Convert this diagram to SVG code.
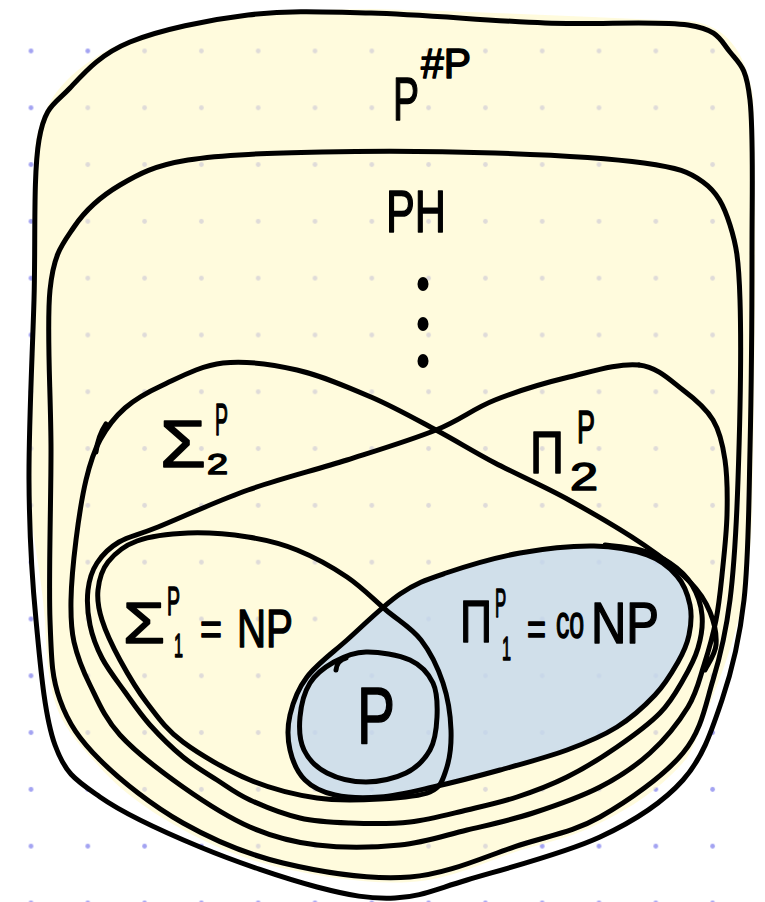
<svg xmlns="http://www.w3.org/2000/svg" width="765" height="902" viewBox="0 0 765 902">
<style>
.ln{fill:none;stroke:#000;stroke-width:5;stroke-linecap:round;stroke-linejoin:round}
.t{font-family:"Liberation Sans",Arial,sans-serif;fill:#000;stroke:#000;stroke-width:1.5;stroke-linejoin:round}
</style>
<defs>
<pattern id="dots" x="2.6" y="22.6" width="56.8" height="56.8" patternUnits="userSpaceOnUse"><circle cx="28.4" cy="28.4" r="2.4" fill="#a3a3f2"/></pattern>
</defs>
<rect width="765" height="902" fill="#fff"/>
<rect width="765" height="902" fill="url(#dots)"/>
<path id="yellow" fill="#fff9cb" fill-opacity="0.65" d="M 36,140 C 45,100 62,78 104,52 C 160,22 250,10 371,9 C 500,12 600,18 690,21 C 725,25 745,50 753,95 C 757,180 755,400 752,520 C 749,590 735,640 718,683 C 705,715 700,735 687,758 C 660,790 630,808 602,822 C 575,836 550,842 521,850 C 485,862 450,880 410,882 C 370,885 320,876 281,868 C 240,858 210,845 180,828 C 140,806 115,785 96,763 C 75,740 62,725 55,702 C 48,680 46,650 45,620 C 40,560 28,520 29,480 C 29,400 33,300 34,250 C 35,200 32,170 36,140 Z"/>
<path id="blue" fill="#c0d6ee" fill-opacity="0.75" d="M 400,594 C 416.5,582.8 426,579.8 446,573 S 495.3,557.5 520,553 S 572.8,545.7 594,546 S 633.2,550 647,555 S 669.8,567.7 677,576 S 688,595.2 690,605 S 691,625.5 689,635 S 683.7,652 678,662 S 665.2,684.2 655,695 S 631.7,717.8 617,727 S 586.5,742.8 567,750 S 522.3,763.8 500,770 S 453,782.5 433,787 S 396.3,795.7 380,797 S 347.5,797.8 335,795 S 312.5,787.5 305,780 S 292.5,760.8 290,750 S 287.2,727.2 290,715 S 297.5,689.5 307,677 S 331.5,653.8 347,640 S 383.5,605.2 400,594 Z"/>

<g id="node-psharp">
<path class="ln" d="M 39,140 C 45,104.7 54.8,104.3 70,88 C 85.2,71.7 100.3,54.2 130,42 C 159.7,29.8 207.8,19.8 248,15 C 288.2,10.2 321.5,11.7 371,13 C 420.5,14.3 492.2,21 545,23 C 597.8,25 657.2,20.2 688,25 C 718.8,29.8 719.7,39.5 730,52 C 740.3,64.5 746.3,67 750,100 C 753.7,133 752,191.7 752,250 C 752,308.3 751.3,391.7 750,450 C 748.7,508.3 748.7,558.3 744,600 C 739.3,641.7 732.2,670 722,700 C 711.8,730 703.3,757.2 683,780 C 662.7,802.8 636,820.3 600,837 C 564,853.7 501.2,869.8 467,880 C 432.8,890.2 420,896.8 395,898 C 370,899.2 349.5,895.5 317,887 C 284.5,878.5 236.2,862 200,847 C 163.8,832 124.2,814 100,797 C 75.8,780 65.7,774.5 55,745 C 44.3,715.5 40.3,664.2 36,620 C 31.7,575.8 29.3,533.3 29,480 C 28.7,426.7 32.3,356.7 34,300 C 35.7,243.3 33,175.3 39,140 Z"/>
<text class="t" font-size="62" transform="translate(393,120) scale(0.63,1)">P</text>
<text class="t" x="421" y="78" font-size="42" textLength="50" lengthAdjust="spacingAndGlyphs">#P</text>
</g>

<g id="node-ph">
<path class="ln" d="M 50,290 C 53.8,252.8 62.3,244.5 74,227 C 85.7,209.5 101,196.2 120,185 C 139,173.8 154.3,165.5 188,160 C 221.7,154.5 270.8,153.2 322,152 C 373.2,150.8 441.3,151.2 495,153 C 548.7,154.8 609.3,158.2 644,163 C 678.7,167.8 688.7,171.7 703,182 C 717.3,192.3 723.8,205.3 730,225 C 736.2,244.7 738.7,257.5 740,300 C 741.3,342.5 739.7,430 738,480 C 736.3,530 734.2,566.7 730,600 C 725.8,633.3 720.8,654.5 713,680 C 705.2,705.5 701.8,730.2 683,753 C 664.2,775.8 627.2,801.7 600,817 C 572.8,832.3 551.7,835 520,845 C 488.3,855 449.5,874 410,877 C 370.5,880 320.8,872 283,863 C 245.2,854 213.5,840.2 183,823 C 152.5,805.8 120.5,780.5 100,760 C 79.5,739.5 68.3,723.3 60,700 C 51.7,676.7 51.5,661.7 50,620 C 48.5,578.3 51,505 51,450 C 51,395 46.2,327.2 50,290 Z"/>
<text class="t" x="386" y="232" font-size="60" textLength="60" lengthAdjust="spacingAndGlyphs">PH</text>
<ellipse cx="423" cy="284" rx="5.5" ry="7"/>
<ellipse cx="423" cy="324" rx="5.5" ry="7"/>
<ellipse cx="423" cy="361" rx="5.5" ry="7"/>
</g>

<g id="node-sigma2">
<path class="ln" d="M 705,670 C 706.8,665.8 715.2,654.7 716,645 S 714.3,622.5 710,612 S 701,593.2 690,582 S 664.2,558.7 644,545 S 593.8,513.7 569,500 S 517.2,474.7 495,463 S 456.7,441 436,430 S 394.2,407 371,397 S 321.7,375.7 297,370 S 245.3,360.5 223,363 S 179.3,377.5 163,385 S 135.5,398.8 125,408 S 106.5,428 100,440 S 90,463.3 86,480 S 78.5,520 76,540 S 71.3,583 71,600 S 70.8,627.8 74,642 S 82.3,669.5 90,685 S 104.5,718 120,735 S 161.3,771.7 183,787 S 227.7,817.3 250,827 S 292,842 317,845 S 375,847.5 400,845 S 444.8,835.3 467,830 S 510.8,820.2 533,813 S 580.5,797 600,787 S 635.3,766.3 650,753 S 679,721.7 688,707 S 699.3,679.5 704,665 S 713,635 716,620 S 720.2,592.5 722,575 S 726.5,534.2 727,515 S 727.3,475.8 725,460 S 720,431.7 713,420 S 695.3,399.2 683,390 S 658,367.2 639,365"/>
<path class="ln" d="M 106,424 Q 98,436 96,452"/>
<text class="t"><tspan x="160" y="467" font-size="66" textLength="46" lengthAdjust="spacingAndGlyphs">Σ</tspan><tspan x="207" y="474" font-size="30" textLength="21" lengthAdjust="spacingAndGlyphs">2</tspan><tspan x="215" y="435" font-size="44" textLength="13" lengthAdjust="spacingAndGlyphs">P</tspan></text>
</g>

<g id="node-pi2">
<path class="ln" d="M 639,365 C 620,362.8 593,371.2 569,377 S 517.2,391.2 495,400 S 460.7,420 436,430 S 378.3,450 347,460 S 279.5,478.8 248,490 S 179.5,518.3 158,527 S 129.2,536 119,542 S 102.2,555 97,563 S 89.2,579.7 88,590 S 87.7,613.7 90,625 S 96.2,646.8 102,658 S 117,680.8 125,692 S 140.3,714.2 150,725 S 171.8,747.8 183,757 S 205.8,772.8 217,780 S 236.2,793.7 250,800 S 283.3,814.2 300,818 S 331.7,822.3 350,823 S 390.5,824.2 410,822 S 449.2,814.2 467,810 S 500.3,802.5 517,797 S 550.3,785.3 567,777 S 601.5,757.7 617,747 S 649,724.2 660,713 S 676.7,690.8 683,680 S 694.8,658.8 698,648 S 703,625.5 702,615 S 697.3,593.7 692,585 S 678.7,568.8 670,563 S 650.8,553 640,550 S 610.8,545.8 605,545"/>
<text class="t" font-size="60" transform="translate(530,473) scale(0.785,1)">Π</text>
<text class="t"><tspan x="570" y="490" font-size="38" textLength="28" lengthAdjust="spacingAndGlyphs">2</tspan><tspan x="577" y="443" font-size="46" textLength="18" lengthAdjust="spacingAndGlyphs">P</tspan></text>
</g>

<g id="node-np">
<path class="ln" d="M 188,533 C 206.5,532.3 229.8,534.2 248,537 S 280.5,543.3 297,550 S 332.2,567 347,577 S 373.7,599.5 386,610 S 411.5,627.8 421,640 S 438,668 443,683 S 450.5,715.5 451,730 S 449.5,759.7 446,770 S 441,787.2 430,792 S 398.8,798 380,799 S 338.7,801.2 317,798 S 272.3,789.3 250,780 S 200.2,754.8 183,742 S 157.5,716.7 147,703 S 127.5,673.8 120,660 S 105.7,631.7 102,620 S 97,599.7 98,590 S 101.5,570.2 108,562 S 123.7,545.8 137,541 S 169.5,533.7 188,533 Z"/>
<text class="t"><tspan x="123" y="643" font-size="58" textLength="42" lengthAdjust="spacingAndGlyphs">Σ</tspan><tspan x="174" y="657" font-size="34" textLength="9" lengthAdjust="spacingAndGlyphs">1</tspan><tspan x="167" y="615" font-size="40" textLength="13" lengthAdjust="spacingAndGlyphs">P</tspan><tspan x="200" y="645" font-size="46" textLength="22" lengthAdjust="spacingAndGlyphs">=</tspan><tspan x="237" y="647" font-size="54" textLength="56" lengthAdjust="spacingAndGlyphs">NP</tspan></text>
</g>

<g id="node-conp">
<path class="ln" d="M 400,594 C 416.5,582.8 426,579.8 446,573 S 495.3,557.5 520,553 S 572.8,545.7 594,546 S 633.2,550 647,555 S 669.8,567.7 677,576 S 688,595.2 690,605 S 691,625.5 689,635 S 683.7,652 678,662 S 665.2,684.2 655,695 S 631.7,717.8 617,727 S 586.5,742.8 567,750 S 522.3,763.8 500,770 S 453,782.5 433,787 S 396.3,795.7 380,797 S 347.5,797.8 335,795 S 312.5,787.5 305,780 S 292.5,760.8 290,750 S 287.2,727.2 290,715 S 297.5,689.5 307,677 S 331.5,653.8 347,640 S 383.5,605.2 400,594 Z"/>
<text class="t" font-size="60" transform="translate(460,642) scale(0.74,1)">Π</text>
<text class="t" font-size="40" transform="translate(495,617) scale(0.42,1)">P</text>
<text class="t" x="502" y="660" font-size="34" textLength="9" lengthAdjust="spacingAndGlyphs">1</text>
<text class="t" x="527" y="645" font-size="46" textLength="19" lengthAdjust="spacingAndGlyphs">=</text>
<text class="t" font-size="46" transform="translate(556,638) scale(0.58,1)">co</text>
<text class="t" x="591" y="643" font-size="58" textLength="68" lengthAdjust="spacingAndGlyphs">NP</text>
</g>

<g id="node-p">
<path class="ln" d="M 366,652 C 378.7,651.7 398.8,654.8 410,660 S 428.5,673.5 433,683 S 437.5,705.8 437,717 S 435.2,740.7 430,750 S 416.7,767.7 406,773 S 379.2,782 366,782 S 337.3,778.3 327,773 S 308.5,759.3 304,750 S 299,728.2 300,717 S 304.3,692.2 310,683 S 324.7,667.2 334,662 S 353.3,652.3 366,652 Z"/>
<path class="ln" d="M 336,670 Q 337,660 346,658"/>
<text class="t" x="357" y="743" font-size="80" textLength="38" lengthAdjust="spacingAndGlyphs">P</text>
</g>
</svg>
